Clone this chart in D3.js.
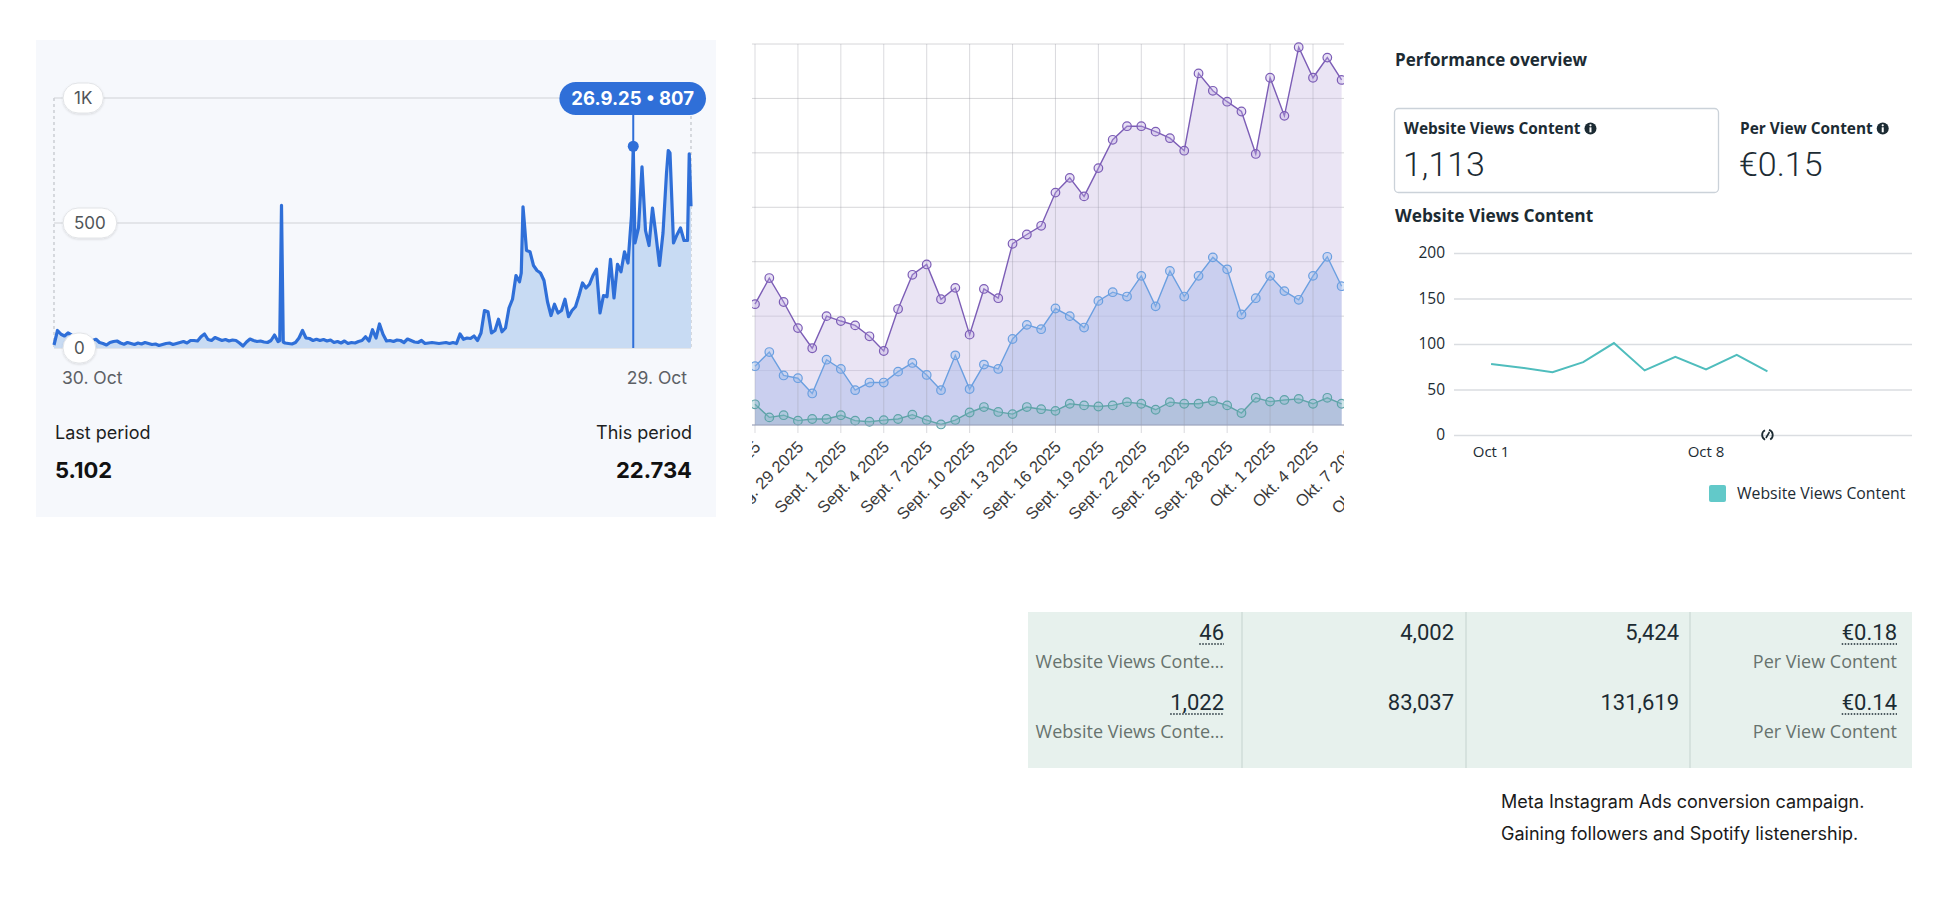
<!DOCTYPE html>
<html>
<head>
<meta charset="utf-8">
<script src="https://cdn.jsdelivr.net/npm/d3@7"></script>
<style>
  body { margin: 0; background: #fff; }
  svg { display: block; }
</style>
</head>
<body>
<div id="board"></div>
<script>
// ---------- data ----------

// panel 1: daily plays 30 Oct 2024 -> 29 Oct 2025 (day offset from start)
const playsStart = '2024-10-30'
const playsEnd = '2025-10-29'
const playsDay = [
  0, 2, 4, 6, 8, 10, 12, 14, 16, 18, 20, 22, 24, 26, 28, 30, 32, 34, 36, 38,
  40, 42, 44, 46, 48, 50, 52, 54, 56, 58, 60, 62, 64, 66, 68, 70, 72, 74, 76, 78,
  80, 82, 84, 86, 88, 90, 92, 94, 96, 98, 100, 102, 104, 106, 108, 110, 112, 114, 116, 118,
  120, 122, 124, 126, 128, 129, 130, 131, 132, 134, 136, 138, 140, 142, 144, 146, 148, 150, 152, 154,
  156, 158, 160, 162, 164, 166, 168, 170, 172, 174, 176, 178, 180, 182, 184, 186, 188, 190, 192, 194,
  196, 198, 200, 202, 204, 206, 208, 210, 212, 214, 216, 218, 220, 222, 224, 226, 228, 230, 232, 234,
  236, 238, 240, 242, 244, 246, 248, 250, 252, 254, 256, 258, 260, 262, 264, 266, 267, 268, 269, 270,
  272, 274, 276, 278, 280, 282, 284, 286, 288, 290, 292, 294, 296, 298, 300, 302, 304, 306, 308, 310,
  312, 314, 316, 318, 320, 322, 324, 326, 328, 330, 331, 332, 334, 336, 338, 340, 342, 344, 346, 348,
  350, 351, 352, 354, 356, 358, 360, 362, 363, 364
]
const playsValue = [
  12, 70, 55, 48, 60, 52, 38, 30, 28, 32, 26, 30, 35, 22, 18, 12, 22, 26, 28, 20,
  15, 22, 18, 14, 20, 16, 22, 18, 14, 16, 10, 14, 18, 20, 14, 18, 22, 26, 20, 30,
  30, 28, 45, 56, 34, 30, 42, 36, 30, 34, 28, 32, 30, 20, 8, 24, 36, 30, 26, 28,
  24, 22, 30, 52, 26, 30, 571, 24, 20, 18, 16, 22, 40, 70, 40, 38, 30, 35, 30, 34,
  28, 32, 22, 26, 20, 28, 18, 22, 20, 26, 30, 45, 28, 73, 40, 96, 55, 28, 30, 26,
  32, 30, 22, 36, 30, 24, 22, 30, 18, 20, 22, 20, 18, 20, 22, 18, 22, 18, 56, 35,
  40, 38, 48, 30, 60, 150, 145, 60, 70, 115, 65, 80, 160, 195, 290, 265, 300, 565, 480, 390,
  385, 330, 310, 300, 270, 185, 130, 175, 140, 150, 195, 125, 150, 165, 210, 260, 240, 255, 290, 315,
  140, 210, 205, 355, 200, 335, 305, 385, 340, 530, 807, 420, 480, 725, 470, 410, 560, 450, 330, 460,
  700, 790, 780, 420, 453, 480, 430, 430, 777, 567
]
const playsTicks = [0, 500, 1000]
const playsTickLabels = ['0', '500', '1K']
const playsAxisLabels = ['30. Oct', '29. Oct']
const tipDate = '2025-09-26'
const tipText = '26.9.25 \u2022 807'
const periodLabels = ['Last period', 'This period']
const periodTotals = ['5.102', '22.734']

// panel 2: three daily series from 26 Aug 2025
const trendStart = '2025-08-26'
const purpleSeries = [
  222, 270, 226, 178, 141, 200, 191, 183, 163, 136, 213, 276, 295, 231, 252, 166, 250, 233, 333, 350,
  366, 427, 454, 420, 472, 524, 549, 549, 539, 527, 504, 646, 614, 594, 576, 498, 638, 568, 694, 638,
  675, 634
]
const blueSeries = [
  108, 134, 91, 86, 58, 120, 103, 64, 78, 78, 98, 114, 92, 64, 128, 66, 111, 103, 158, 184,
  176, 214, 200, 179, 228, 244, 236, 274, 218, 283, 236, 274, 308, 286, 203, 233, 274, 246, 230, 274,
  309, 255
]
const tealSeries = [
  38, 14, 18, 8, 11, 11, 18, 8, 6, 9, 11, 19, 9, 1, 9, 23, 33, 24, 20, 33,
  29, 26, 39, 36, 34, 36, 42, 39, 28, 42, 39, 39, 44, 36, 22, 50, 43, 46, 48, 39,
  50, 39
]
const trendGrid = [0, 100, 200, 300, 400, 500, 600, 700]
const monthAbbr = ['Jan.', 'Feb.', 'M\u00e4rz', 'Apr.', 'Mai', 'Juni', 'Juli', 'Aug.', 'Sept.', 'Okt.', 'Nov.', 'Dez.']

// panel 3: Meta performance overview
const perfDates = ['2025-10-01', '2025-10-02', '2025-10-03', '2025-10-04', '2025-10-05',
                   '2025-10-06', '2025-10-07', '2025-10-08', '2025-10-09', '2025-10-10']
const perfViews = [78, 74, 69, 80, 101, 71, 86, 72, 88, 70]
const perfTicks = [0, 50, 100, 150, 200]
const perfDateLabels = ['2025-10-01', '2025-10-08']
const kpiLabels = ['Website Views Content', 'Per View Content']
const kpiValues = ['1,113', '\u20ac0.15']

// table + caption
const tableValues = [['46', '4,002', '5,424', '\u20ac0.18'], ['1,022', '83,037', '131,619', '\u20ac0.14']]
const tableSubs = [['Website Views Conte\u2026', '', '', 'Per View Content'], ['Website Views Conte\u2026', '', '', 'Per View Content']]
const tableDotted = [true, false, false, true]
const captionLines = ['Meta Instagram Ads conversion campaign.', 'Gaining followers and Spotify listenership.']

// helper
const parseDate = d3.timeParse('%Y-%m-%d')
const metaFont = 'Open Sans'

const svg = d3.select('#board')
  .append('svg')
    .attr('width', 1946)
    .attr('height', 922)
svg.append('rect').attr('width', 1946).attr('height', 922).attr('fill', '#fff')

const defs = svg.append('defs')
const shadow = defs.append('filter').attr('id', 'pillShadow')
    .attr('x', '-30%').attr('y', '-30%').attr('width', '160%').attr('height', '160%')
shadow.append('feDropShadow').attr('dx', 0).attr('dy', 1).attr('stdDeviation', 1.2)
    .attr('flood-color', '#000').attr('flood-opacity', 0.12)

// ================= panel 1 =================
function drawPlays(){
  const p = {x0: 54, x1: 691, top: 98, base: 348}
  const g = svg.append('g').attr('class', 'plays')
  g.append('rect').attr('x', 36).attr('y', 40).attr('width', 680).attr('height', 477).attr('fill', '#f6f8fc')

  const x = d3.scaleTime()
    .domain([parseDate(playsStart), parseDate(playsEnd)])
    .range([p.x0, p.x1])
  const y = d3.scaleLinear().domain([0, 1000]).range([p.base, p.top])

  const pts = playsDay.map((d, i) => ({date: d3.timeDay.offset(parseDate(playsStart), d), v: playsValue[i]}))

  // dashed side rules
  g.selectAll('.side').data([p.x0, p.x1]).join('line')
    .attr('x1', d => d).attr('x2', d => d).attr('y1', p.top).attr('y2', p.base)
    .attr('stroke', '#b5b9bf').attr('stroke-width', 1).attr('stroke-dasharray', '3,3')

  // grid
  g.selectAll('.grid').data(playsTicks).join('line')
    .attr('x1', p.x0).attr('x2', p.x1)
    .attr('y1', d => y(d)).attr('y2', d => y(d))
    .attr('stroke', '#cfd2d6').attr('stroke-width', 1.2)

  // area + line
  g.append('path')
    .attr('d', d3.area().x(d => x(d.date)).y0(p.base).y1(d => y(d.v))(pts))
    .attr('fill', '#c8dbf3')
  g.append('path')
    .attr('d', d3.line().x(d => x(d.date)).y(d => y(d.v))(pts))
    .attr('fill', 'none').attr('stroke', '#2f6fd8').attr('stroke-width', 3.2)
    .attr('stroke-linejoin', 'round')

  // y pills
  playsTicks.forEach((t, i) => {
    const pg = g.append('g')
    const txt = pg.append('text').text(playsTickLabels[i])
      .attr('font-family', 'Inter').attr('font-size', 17).attr('fill', '#505458')
      .attr('text-anchor', 'middle').attr('dy', '0.36em')
    const w = Math.max(30, txt.node().getComputedTextLength() + 22)
    pg.insert('rect', 'text')
      .attr('x', 63).attr('y', y(t) - 15).attr('width', w).attr('height', 30).attr('rx', 15)
      .attr('fill', '#fff').attr('stroke', '#e2e4e7').attr('filter', 'url(#pillShadow)')
    txt.attr('x', 63 + w / 2).attr('y', y(t))
  })

  // tooltip
  const tx = x(parseDate(tipDate))
  const tv = playsValue[playsDay.indexOf(331)]
  g.append('line').attr('x1', tx).attr('x2', tx).attr('y1', 110).attr('y2', p.base)
    .attr('stroke', '#2f6fd8').attr('stroke-width', 2)
  g.append('circle').attr('cx', tx).attr('cy', y(tv)).attr('r', 5.5).attr('fill', '#2f6fd8')
  const tg = g.append('g')
  const tt = tg.append('text').text(tipText)
    .attr('font-family', 'Inter').attr('font-weight', 700).attr('font-size', 18.5)
    .attr('fill', '#fff').attr('text-anchor', 'middle').attr('dy', '0.36em')
  const tw = tt.node().getComputedTextLength() + 24
  const tleft = Math.min(tx - tw / 2, 706 - tw)
  tg.insert('rect', 'text').attr('x', tleft).attr('y', 82).attr('width', tw).attr('height', 33)
    .attr('rx', 16.5).attr('fill', '#2f6fd8')
  tt.attr('x', tleft + tw / 2).attr('y', 98.5)

  // x labels
  g.append('text').text(playsAxisLabels[0]).attr('x', 62).attr('y', 384)
    .attr('font-family', 'Inter').attr('font-size', 17.5).attr('fill', '#5c6065')
  g.append('text').text(playsAxisLabels[1]).attr('x', 687).attr('y', 384).attr('text-anchor', 'end')
    .attr('font-family', 'Inter').attr('font-size', 17.5).attr('fill', '#5c6065')

  // totals
  const anchors = [[55, 'start'], [692, 'end']]
  anchors.forEach((a, i) => {
    g.append('text').text(periodLabels[i]).attr('x', a[0]).attr('y', 439).attr('text-anchor', a[1])
      .attr('font-family', 'Inter').attr('font-size', 18).attr('fill', '#1d1f22')
    g.append('text').text(periodTotals[i]).attr('x', a[0]).attr('y', 478).attr('text-anchor', a[1])
      .attr('font-family', 'Inter').attr('font-weight', 700).attr('font-size', 22).attr('fill', '#111')
  })
}

// ================= panel 2 =================
function drawTrend(){
  const start = parseDate(trendStart)
  const x = d3.scaleTime()
    .domain([start, d3.timeDay.offset(start, 39)])
    .range([755, 1313])
  const y = d3.scaleLinear().domain([0, 700]).range([425, 44])

  defs.append('clipPath').attr('id', 'trendClip')
    .append('rect').attr('x', 752).attr('y', 20).attr('width', 592).attr('height', 520)

  const g = svg.append('g').attr('clip-path', 'url(#trendClip)')
  const tickDates = d3.range(0, 49, 3).map(i => d3.timeDay.offset(start, i))

  // grid
  g.selectAll('.hgrid').data(trendGrid).join('line')
    .attr('x1', 740).attr('x2', 1360).attr('y1', d => y(d)).attr('y2', d => y(d))
    .attr('stroke', '#d6d6d9').attr('stroke-width', 1)

  const series = [
    {vals: purpleSeries, line: '#7c5db6', fill: 'rgba(205,190,228,0.42)', dot: 'rgba(190,170,225,0.35)'},
    {vals: blueSeries, line: '#6b9fe0', fill: 'rgba(172,188,234,0.52)', dot: 'rgba(150,185,235,0.35)'},
    {vals: tealSeries, line: '#5ea3a8', fill: 'rgba(150,178,200,0.45)', dot: 'rgba(130,190,195,0.35)'}
  ]
  series.forEach(s => {
    const pts = s.vals.map((v, i) => ({date: d3.timeDay.offset(start, i), v: v}))
    g.append('path')
      .attr('d', d3.area().x(d => x(d.date)).y0(y(0)).y1(d => y(d.v))(pts))
      .attr('fill', s.fill)
  })

  g.selectAll('.vgrid').data(tickDates).join('line')
    .attr('x1', d => x(d)).attr('x2', d => x(d)).attr('y1', 44).attr('y2', 433)
    .attr('stroke', 'rgba(150,150,160,0.35)').attr('stroke-width', 1)

  series.forEach(s => {
    const pts = s.vals.map((v, i) => ({date: d3.timeDay.offset(start, i), v: v}))
    g.append('path')
      .attr('d', d3.line().x(d => x(d.date)).y(d => y(d.v))(pts))
      .attr('fill', 'none').attr('stroke', s.line).attr('stroke-width', 1.4)
    g.selectAll(null).data(pts).join('circle')
      .attr('cx', d => x(d.date)).attr('cy', d => y(d.v)).attr('r', 4.3)
      .attr('fill', s.dot).attr('stroke', s.line).attr('stroke-width', 1.2)
  })

  g.append('line').attr('x1', 740).attr('x2', 1360).attr('y1', y(0)).attr('y2', y(0))
    .attr('stroke', '#9aa3bd').attr('stroke-width', 1)

  const xAxis = d3.axisBottom(x)
    .tickValues(tickDates)
    .tickSize(0)
    .tickFormat(d => `${monthAbbr[d.getMonth()]} ${d.getDate()} 2025`)
  const ax = g.append('g').attr('transform', `translate(0, ${y(0)})`).call(xAxis)
  ax.select('.domain').remove()
  ax.selectAll('text')
    .attr('x', 0).attr('y', 0).attr('dy', 0)
    .attr('text-anchor', 'end')
    .attr('transform', 'translate(6, 23) rotate(-45)')
    .attr('font-family', 'Liberation Sans').attr('font-size', 16.5).attr('fill', '#3a3a3a')
}

// ================= panel 3 =================
function drawPerf(){
  const g = svg.append('g').attr('font-family', metaFont).attr('fill', '#1c2b33')
  g.append('text').text('Performance overview').attr('x', 1395).attr('y', 66)
    .attr('font-size', 17).attr('font-weight', 700)

  g.append('rect').attr('x', 1394.5).attr('y', 108.5).attr('width', 324).attr('height', 84)
    .attr('rx', 4).attr('fill', '#fff').attr('stroke', '#cbd2d9').attr('stroke-width', 1.3)

  const kx = [1404, 1740]
  kpiLabels.forEach((k, i) => {
    const t = g.append('text').text(k).attr('x', kx[i]).attr('y', 134)
      .attr('font-size', 15.4).attr('font-weight', 700)
    const w = t.node().getComputedTextLength()
    const ix = kx[i] + w + 10
    g.append('circle').attr('cx', ix).attr('cy', 128.5).attr('r', 6).attr('fill', '#1c2b33')
    g.append('circle').attr('cx', ix).attr('cy', 125.3).attr('r', 1.1).attr('fill', '#fff')
    g.append('rect').attr('x', ix - 1).attr('y', 127.3).attr('width', 2).attr('height', 5).attr('fill', '#fff')
    g.append('text').text(kpiValues[i]).attr('x', kx[i] - 1).attr('y', 176)
      .attr('font-family', 'Roboto').attr('font-size', 34).attr('font-weight', 300)
  })

  g.append('text').text('Website Views Content').attr('x', 1395).attr('y', 222)
    .attr('font-size', 17.3).attr('font-weight', 700)

  const dates = perfDates.map(parseDate)
  const day0 = dates[0]
  const x = d3.scaleTime()
    .domain([d3.timeHour.offset(day0, -29), d3.timeHour.offset(day0, 24 * 13 + 17)])
    .range([1454, 1912])
  const y = d3.scaleLinear().domain([0, 200]).range([435, 253])

  const yAxis = d3.axisLeft(y).tickValues(perfTicks).tickSize(-(1912 - 1454)).tickPadding(9)
  const ay = g.append('g').attr('transform', 'translate(1454, 0)').call(yAxis)
  ay.select('.domain').remove()
  ay.selectAll('line').attr('stroke', '#dadde1').attr('stroke-width', 1.3)
  ay.selectAll('text').attr('font-family', metaFont).attr('font-size', 15.5).attr('fill', '#1c2b33')

  perfDateLabels.forEach(d => {
    g.append('text').text(d3.timeFormat('%b %-d')(parseDate(d)))
      .attr('x', x(parseDate(d))).attr('y', 457).attr('text-anchor', 'middle')
      .attr('font-size', 15).attr('fill', '#1c2b33')
  })

  g.append('path')
    .attr('d', d3.line().x((d, i) => x(dates[i])).y(d => y(d))(perfViews))
    .attr('fill', 'none').attr('stroke', '#4fbdbd').attr('stroke-width', 2)

  // small loading glyph at the end of the series
  const lx = x(dates[dates.length - 1])
  const arc = d3.arc().innerRadius(4.4).outerRadius(6.2)
  g.append('path').attr('transform', `translate(${lx}, 435)`)
    .attr('d', arc({startAngle: 0.3, endAngle: 2.6})).attr('fill', '#1c2b33')
  g.append('path').attr('transform', `translate(${lx}, 435)`)
    .attr('d', arc({startAngle: 3.6, endAngle: 5.8})).attr('fill', '#1c2b33')
  g.append('path').attr('transform', `translate(${lx}, 435)`)
    .attr('d', 'M-1.5,3 L2,-3').attr('stroke', '#1c2b33').attr('stroke-width', 1.6)

  // legend
  g.append('rect').attr('x', 1709).attr('y', 485).attr('width', 17).attr('height', 17).attr('rx', 2)
    .attr('fill', '#62c9c9')
  g.append('text').text('Website Views Content').attr('x', 1737).attr('y', 499)
    .attr('font-size', 15.8).attr('fill', '#1c2b33')
}

// ================= table =================
function drawTable(){
  const g = svg.append('g').attr('font-family', 'Roboto')
  g.append('rect').attr('x', 1028).attr('y', 612).attr('width', 884).attr('height', 156).attr('fill', '#e7f1ed')
  const dividers = [1242, 1466, 1690]
  g.selectAll('.div').data(dividers).join('line')
    .attr('x1', d => d).attr('x2', d => d).attr('y1', 612).attr('y2', 768)
    .attr('stroke', '#d1ddd8').attr('stroke-width', 1.5)

  const rightEdges = [1224, 1454, 1679, 1897]
  const rowY = [640, 710]
  tableValues.forEach((row, r) => {
    row.forEach((v, c) => {
      const t = g.append('text').text(v).attr('x', rightEdges[c]).attr('y', rowY[r])
        .attr('text-anchor', 'end').attr('font-size', 22).attr('fill', '#1c2b33')
      if (tableDotted[c]) {
        const w = t.node().getComputedTextLength()
        g.append('line').attr('x1', rightEdges[c] - w).attr('x2', rightEdges[c])
          .attr('y1', rowY[r] + 4).attr('y2', rowY[r] + 4)
          .attr('stroke', '#1c2b33').attr('stroke-width', 1.5).attr('stroke-dasharray', '1.5,1.5')
      }
      if (tableSubs[r][c]) {
        g.append('text').text(tableSubs[r][c]).attr('x', rightEdges[c]).attr('y', rowY[r] + 28)
          .attr('text-anchor', 'end').attr('font-family', metaFont).attr('font-size', 18)
          .attr('fill', '#67736e')
      }
    })
  })

  captionLines.forEach((line, i) => {
    g.append('text').text(line).attr('x', 1501).attr('y', 808 + i * 32)
      .attr('font-family', 'Inter').attr('font-size', 18).attr('fill', '#1a1a1a')
  })
}

drawPlays()
drawTrend()
drawPerf()
drawTable()
</script>
</body>
</html>
